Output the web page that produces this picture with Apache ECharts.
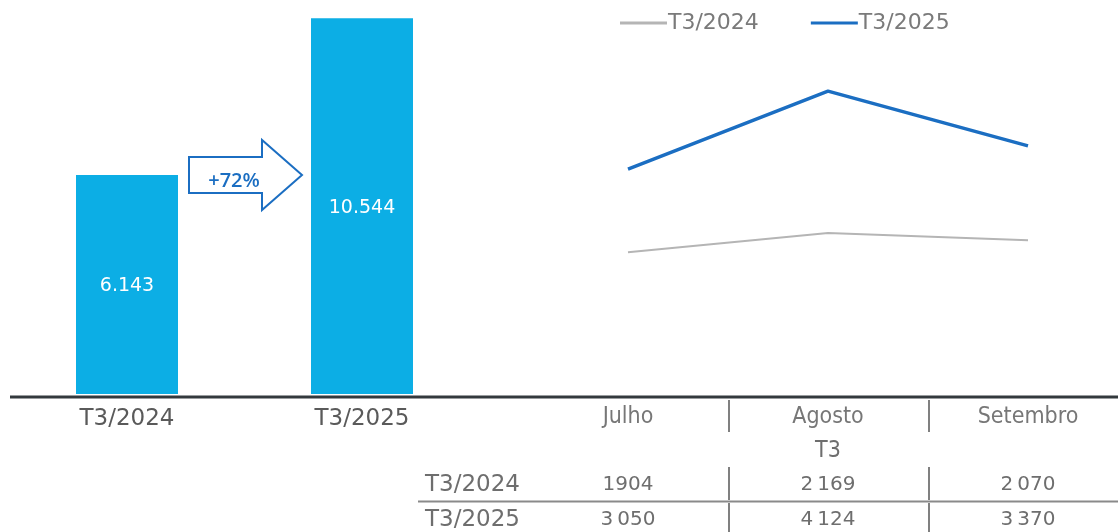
<!DOCTYPE html>
<html><head><meta charset="utf-8">
<script src="https://cdn.jsdelivr.net/npm/echarts@6/dist/echarts.min.js"></script>
<style>html,body{margin:0;padding:0;background:#fff}#c{width:1118px;height:532px}</style>
</head><body><div id="c"></div>
<script>
const barCategories = ['T3/2024', 'T3/2025'];
const barValues = [6143, 10544];
const barLabels = ['6.143', '10.544'];
const growthLabel = '+72%';
const months = ['Julho', 'Agosto', 'Setembro'];
const seriesNames = ['T3/2024', 'T3/2025'];
const values2024 = [1904, 2169, 2070];
const values2025 = [3050, 4124, 3370];
const table2024 = ['1904', '2\u2009169', '2\u2009070'];
const table2025 = ['3\u2009050', '4\u2009124', '3\u2009370'];
const tableGroup = 'T3';

const BLUE = '#1b6ec2', GREY = '#b5b5b5', CYAN = '#0caee5';
const TXT = '#6e6e6e';
const narrow = '"DejaVu Sans Condensed","Liberation Sans Narrow",sans-serif';
const wide = '"DejaVu Sans",sans-serif';

const chart = echarts.init(document.getElementById('c'), null, {renderer: 'canvas'});
const option = {
  backgroundColor: '#ffffff',
  animation: false,
  legend: {
    left: 615, top: 7, itemWidth: 47, itemHeight: 3, itemGap: 52, icon: 'rect',
    textStyle: {fontFamily: wide, fontSize: 22, color: '#7a7a7a', padding: [0, 0, 0, -4]},
    data: seriesNames
  },
  grid: [
    {left: 9.5, width: 470, top: 2, bottom: 138},
    {left: 628, right: 90, top: 27.5, bottom: 141.5}
  ],
  xAxis: [
    {type: 'category', gridIndex: 0, data: barCategories,
     axisLine: {show: false}, axisTick: {show: false},
     axisLabel: {margin: 14, fontFamily: wide, fontSize: 23, color: '#5a5a5a'}},
    {type: 'category', gridIndex: 1, data: months, boundaryGap: false,
     axisLine: {show: false}, axisTick: {show: false},
     axisLabel: {margin: 15, fontFamily: narrow, fontSize: 23, color: '#777'}}
  ],
  yAxis: [
    {type: 'value', gridIndex: 0, min: 0, max: 11000, show: false, splitLine: {show: false}},
    {type: 'value', gridIndex: 1, min: 0, max: 5000, show: false, splitLine: {show: false}}
  ],
  series: [
    {type: 'bar', xAxisIndex: 0, yAxisIndex: 0, data: barValues, barWidth: 102,
     itemStyle: {color: CYAN},
     label: {show: true, position: 'inside', offset: [0, 2], color: '#fff', fontFamily: wide, fontSize: 19,
       formatter: p => barLabels[p.dataIndex]}},
    {type: 'line', name: seriesNames[0], xAxisIndex: 1, yAxisIndex: 1, data: values2024,
     symbol: 'none', lineStyle: {color: GREY, width: 2}, itemStyle: {color: GREY}},
    {type: 'line', name: seriesNames[1], xAxisIndex: 1, yAxisIndex: 1, data: values2025,
     symbol: 'none', lineStyle: {color: BLUE, width: 3.5}, itemStyle: {color: BLUE}}
  ]
};
chart.setOption(option);

const colX = months.map(m => chart.convertToPixel({xAxisIndex: 1}, m));
const base = chart.convertToPixel({yAxisIndex: 0}, 0);
const half = (colX[1] - colX[0]) / 2;
const g = [];
g.push({type: 'rect', shape: {x: 10, y: base + 1.5, width: 1108, height: 3}, style: {fill: '#33393d'}});
g.push({type: 'polygon', shape: {points: [[189,157],[262,157],[262,140],[302,175],[262,210],[262,193],[189,193]]},
  style: {fill: '#fff', stroke: BLUE, lineWidth: 2}});
g.push({type: 'text', x: 234, y: 181, style: {text: growthLabel, fill: BLUE, font: '600 20px "Open Sans",sans-serif', align: 'center', verticalAlign: 'middle'}});
const sep = (x, y1, y2) => g.push({type: 'line', shape: {x1: x, y1: y1, x2: x, y2: y2}, style: {stroke: '#808080', lineWidth: 2}});
for (let i = 1; i < months.length; i++) {
  const x = colX[i] - half + 1;
  sep(x, 400, 432); sep(x, 467, 500); sep(x, 503, 532);
}
g.push({type: 'line', shape: {x1: 418, y1: 501.5, x2: 1118, y2: 501.5}, style: {stroke: '#8a8a8a', lineWidth: 2}});
const txt = (t, x, y, font, align) => g.push({type: 'text', x: x, y: y,
  style: {text: t, fill: TXT, font: font, align: align || 'center', verticalAlign: 'middle'}});
txt(tableGroup, colX[1], 451, '23px ' + narrow);
txt(seriesNames[0], 425, 485, '23px ' + wide, 'left');
txt(seriesNames[1], 425, 520, '23px ' + wide, 'left');
table2024.forEach((v, i) => txt(v, colX[i], 485, '20px ' + wide));
table2025.forEach((v, i) => txt(v, colX[i], 520, '20px ' + wide));
chart.setOption({graphic: g});
</script></body></html>
